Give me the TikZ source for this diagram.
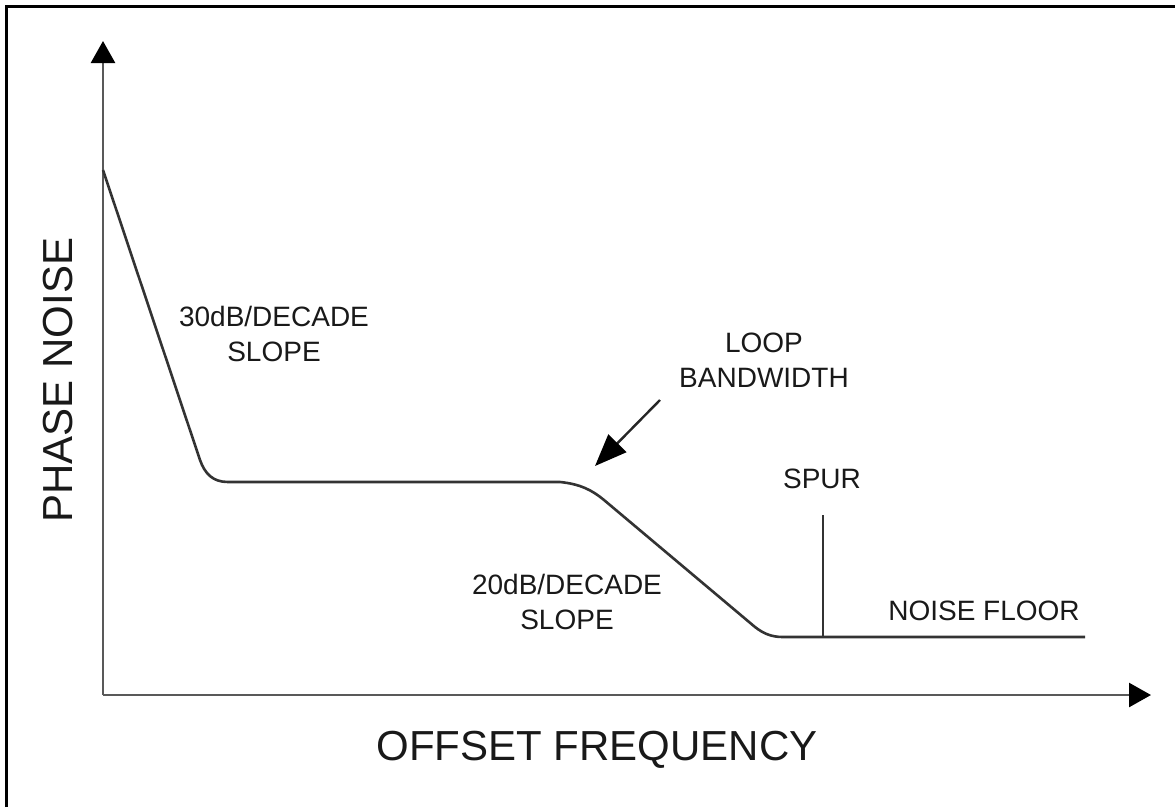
\documentclass[tikz,border=0pt]{standalone}
\usepackage{fontspec}
\setmainfont{Liberation Sans}
\usetikzlibrary{arrows.meta}
\begin{document}
\begin{tikzpicture}[x=1pt,y=-1pt,
  ln/.style={line width=2.6pt, draw=black!80},
  axis/.style={line width=2.6pt, draw=black!65, -{Triangle[length=22pt,width=24pt,color=black]}},
  lbl/.style={font=\fontsize{28}{35}\selectfont, align=center, inner sep=0pt, text=black!90},
  big/.style={font=\fontsize{42}{50}\selectfont, inner sep=0pt, text=black!90},
  pointer/.style={line width=2.4pt, draw=black!85, -{Triangle[length=32pt,width=25pt,color=black]}}]
\useasboundingbox (0,0) rectangle (1175,807);
\fill[white] (0,0) rectangle (1175,807);
% frame (top and left)
\draw[line width=3pt, black] (6,807) -- (6,6) -- (1175,6);
% axes
\coordinate (O) at (103,695);
\coordinate (ytip) at (103,41);
\coordinate (xtip) at (1151,695);
\draw[axis] (O) -- (ytip);
\draw[axis] (O) -- (xtip);
% noise curve
\coordinate (c0) at (103,170);
\coordinate (c1) at (200,460);
\coordinate (c2) at (228,482);
\coordinate (c3) at (560,482);
\coordinate (c4) at (604,500);
\coordinate (c5) at (755,627);
\coordinate (c6) at (783,637);
\coordinate (c7) at (1085,637);
\draw[ln, line join=round] (c0) -- (c1) .. controls (205,474) and (213,482) .. (c2) -- (c3)
  .. controls (580,484) and (592,490) .. (c4) -- (c5) .. controls (764,634) and (772,637) .. (c6) -- (c7);
% spur
\coordinate (spurtop) at (823,515);
\coordinate (spurbase) at (823,637);
\draw[ln] (spurbase) -- (spurtop);
% loop bandwidth pointer
\coordinate (pstart) at (660,400);
\coordinate (ptip) at (595,466);
\draw[pointer] (pstart) -- (ptip);
% labels
\node[lbl] (s30) at (274,334) {30dB/DECADE\\SLOPE};
\node[lbl] (loop) at (764,360) {LOOP\\BANDWIDTH};
\node[lbl] (s20) at (567,602) {20dB/DECADE\\SLOPE};
\node[lbl] (spur) at (822,479) {SPUR};
\node[lbl] (floor) at (984,611) {NOISE FLOOR};
\node[big, rotate=90] (ylab) at (58,380) {PHASE NOISE};
\node[big] (xlab) at (597,750) {OFFSET FREQUENCY};
\end{tikzpicture}
\end{document}
